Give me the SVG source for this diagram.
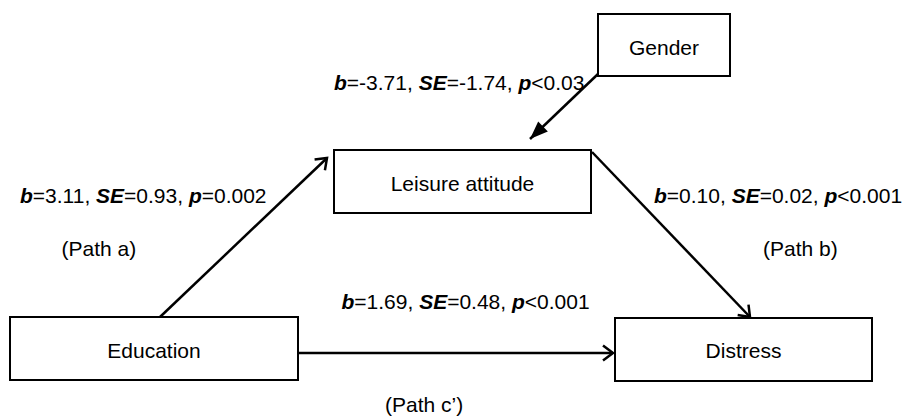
<svg xmlns="http://www.w3.org/2000/svg" width="915" height="419" viewBox="0 0 915 419">
<style>
.box{fill:#fff;stroke:#000;stroke-width:2}
.lbl{font-family:"Liberation Sans",Arial,sans-serif;font-size:21px;fill:#000}
.c{text-anchor:middle}
.edge{stroke:#000;stroke-width:2.5;fill:none}
.bi{font-weight:bold;font-style:italic}
</style>
<defs>
<marker id="open" markerUnits="userSpaceOnUse" markerWidth="24" markerHeight="24" refX="12" refY="12" orient="auto" viewBox="0 0 24 24">
<path d="M2,4.5 L12,12 L2,19.5" fill="none" stroke="#000" stroke-width="2.5"/>
</marker>
<marker id="filled" markerUnits="userSpaceOnUse" markerWidth="24" markerHeight="24" refX="20" refY="12" orient="auto" viewBox="0 0 24 24">
<path d="M2,5 L20,12 L2,19 Z" fill="#000"/>
</marker>
</defs>
<g id="connectors">
<line class="edge" x1="160" y1="317" x2="327" y2="158" marker-end="url(#open)"/>
<line class="edge" x1="598" y1="74" x2="530" y2="139" marker-end="url(#filled)"/>
<line class="edge" x1="592" y1="152" x2="750" y2="317" marker-end="url(#open)"/>
<line class="edge" x1="298" y1="353" x2="613" y2="353" marker-end="url(#open)"/>
</g>
<g id="gender">
<rect class="box" x="598" y="14" width="132" height="62"/>
<text class="lbl c" x="664" y="55">Gender</text>
</g>
<g id="leisure">
<rect class="box" x="334" y="150" width="257" height="63"/>
<text class="lbl c" x="462.5" y="190.5">Leisure attitude</text>
</g>
<g id="education">
<rect class="box" x="10" y="317" width="288" height="63"/>
<text class="lbl c" x="154" y="357.5">Education</text>
</g>
<g id="distress">
<rect class="box" x="615" y="318" width="257" height="63"/>
<text class="lbl c" x="743.5" y="358">Distress</text>
</g>
<g id="labels">
<text class="lbl" x="334" y="90"><tspan class="bi">b</tspan>=-3.71, <tspan class="bi">SE</tspan>=-1.74, <tspan class="bi">p</tspan>&lt;0.03</text>
<text class="lbl" x="20" y="202.5"><tspan class="bi">b</tspan>=3.11, <tspan class="bi">SE</tspan>=0.93, <tspan class="bi">p</tspan>=0.002</text>
<text class="lbl" x="654" y="202.5"><tspan class="bi">b</tspan>=0.10, <tspan class="bi">SE</tspan>=0.02, <tspan class="bi">p</tspan>&lt;0.001</text>
<text class="lbl" x="61.5" y="255.5">(Path a)</text>
<text class="lbl" x="763" y="255.5">(Path b)</text>
<text class="lbl" x="341.5" y="309"><tspan class="bi">b</tspan>=1.69, <tspan class="bi">SE</tspan>=0.48, <tspan class="bi">p</tspan>&lt;0.001</text>
<text class="lbl" x="385" y="411.5">(Path c’)</text>
</g>
</svg>
